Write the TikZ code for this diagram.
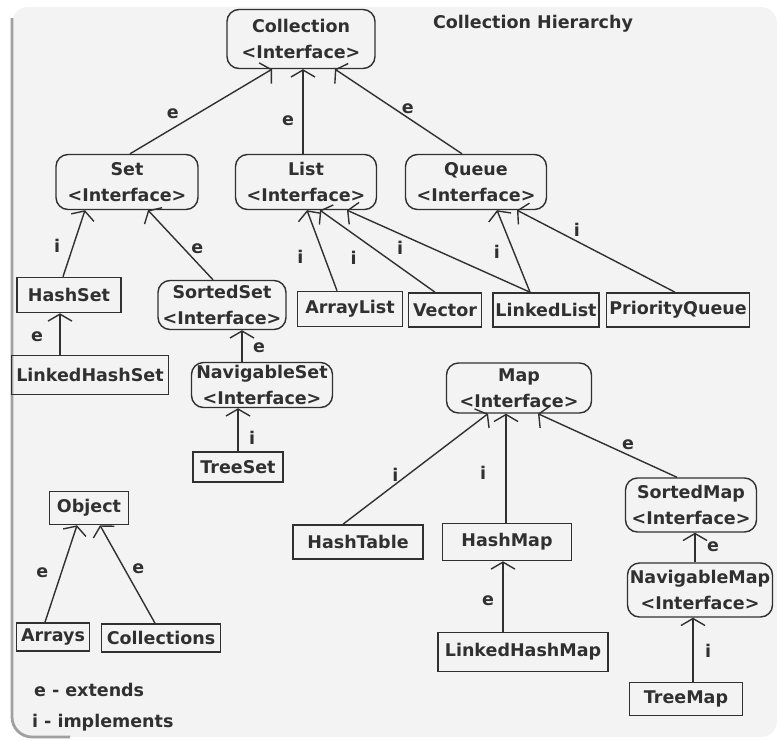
\documentclass[tikz,border=0pt]{standalone}
\usepackage{fontspec}
\setmainfont{DejaVu Sans}
\usetikzlibrary{arrows.meta}
\definecolor{bgfill}{HTML}{F3F3F3}
\definecolor{ink}{HTML}{303030}
\definecolor{rim}{HTML}{A0A0A0}

\begin{document}
\begin{tikzpicture}[x=0.5pt, y=-0.5pt, >={Straight Barb[length=3.5pt,width=12pt]},
  every node/.style={font=\bfseries\fontsize{8.75}{13}\selectfont, text=ink},
  iface/.style={draw=ink, rounded corners=6pt, align=center, inner sep=1pt, line width=0.7pt},
  cls/.style={draw=ink, inner sep=1pt, line width=0.8pt},
  lbl/.style={inner sep=0pt},
  rel/.style={->, draw=ink, line width=0.7pt}]
  % background sheet
  \useasboundingbox (0,0) rectangle (777,740);
  \fill[white] (0,0) rectangle (777,740);
  \fill[bgfill, rounded corners=8pt] (12,7) rectangle (777,737);
  \draw[rim, line width=1.4pt, rounded corners=10pt] (12,18) -- (12,737) -- (70,737);

  \node at (533,24) {Collection Hierarchy};

  % collection side
  \node[iface, minimum width=74pt, minimum height=29.5pt] (coll) at (301,39) {Collection\\<Interface>};
  \node[iface, minimum width=71pt, minimum height=27.5pt] (set) at (127,182) {Set\\<Interface>};
  \node[iface, minimum width=70.5pt, minimum height=27.5pt] (list) at (306,182) {List\\<Interface>};
  \node[iface, minimum width=70.5pt, minimum height=27.5pt] (queue) at (476,182) {Queue\\<Interface>};
  \node[cls, minimum width=52pt, minimum height=17.5pt] (hset) at (69,295) {HashSet};
  \node[cls, minimum width=78.5pt, minimum height=19.5pt] (lhset) at (90,375) {LinkedHashSet};
  \node[iface, minimum width=64pt, minimum height=24.5pt] (sset) at (222,305) {SortedSet\\<Interface>};
  \node[iface, minimum width=70.5pt, minimum height=22.5pt] (nset) at (262,385) {NavigableSet\\<Interface>};
  \node[cls, minimum width=45pt, minimum height=15pt] (tset) at (238,467) {TreeSet};
  \node[cls, minimum width=52.5pt, minimum height=17.5pt] (alist) at (350,309) {ArrayList};
  \node[cls, minimum width=36.5pt, minimum height=17pt] (vec) at (445,310) {Vector};
  \node[cls, minimum width=53pt, minimum height=17pt] (llist) at (546,310) {LinkedList};
  \node[cls, minimum width=71.5pt, minimum height=17pt] (pq) at (678,310) {PriorityQueue};

  % map side
  \node[iface, minimum width=72.5pt, minimum height=25pt] (map) at (519,388) {Map\\<Interface>};
  \node[cls, minimum width=65pt, minimum height=17pt] (htab) at (358,542) {HashTable};
  \node[cls, minimum width=64.5pt, minimum height=18.5pt] (hmap) at (507,542) {HashMap};
  \node[cls, minimum width=85pt, minimum height=19.5pt] (lhmap) at (523,652) {LinkedHashMap};
  \node[iface, minimum width=65.5pt, minimum height=27pt] (smap) at (691,505) {SortedMap\\<Interface>};
  \node[iface, minimum width=72.5pt, minimum height=27pt] (nmap) at (700,590) {NavigableMap\\<Interface>};
  \node[cls, minimum width=56.5pt, minimum height=16.5pt] (tmap) at (686,699) {TreeMap};

  % object side
  \node[cls, minimum width=39.5pt, minimum height=16.5pt] (obj) at (89,508) {Object};
  \node[cls, minimum width=36.5pt, minimum height=14pt] (arrs) at (53,637) {Arrays};
  \node[cls, minimum width=59.5pt, minimum height=14pt] (colls) at (161,638) {Collections};

  \node[anchor=west] (keye) at (27,690) {e - extends};
  \node[anchor=west] (keyi) at (25,723) {i - implements};

  % relations
  \draw[rel] ([xshift=1.5pt]set.north) -- node[lbl, pos=.47, xshift=-12pt] {e} ([xshift=-14.5pt]coll.south);
  \draw[rel] ([xshift=-1.5pt]list.north) -- node[lbl, pos=.39, xshift=-7.5pt] {e} ([xshift=1pt]coll.south);
  \draw[rel] ([xshift=-7pt]queue.north) -- node[lbl, pos=.53, xshift=6.5pt] {e} ([xshift=17pt]coll.south);
  \draw[rel] ([xshift=-3pt]hset.north) -- node[lbl, pos=.46, xshift=-8pt] {i} ([xshift=-21pt]set.south);
  \draw[rel] ([xshift=-4.5pt]sset.north) -- node[lbl, pos=.44, xshift=6.5pt] {e} ([xshift=10.5pt]set.south);
  \draw[rel] ([xshift=-15pt]lhset.north) -- node[lbl, pos=.43, xshift=-11.5pt] {e} ([xshift=-4.5pt]hset.south);
  \draw[rel] ([xshift=-10pt]nset.north) -- node[lbl, pos=.44, xshift=8.5pt] {e} ([xshift=10pt]sset.south);
  \draw[rel] (tset.north) -- node[lbl, pos=.31, xshift=7pt] {i} ([xshift=-12pt]nset.south);
  \draw[rel] ([xshift=-6.5pt]alist.north) -- node[lbl, pos=.42, xshift=-12pt] {i} ([xshift=0.5pt]list.south);
  \draw[rel] ([xshift=-5pt]vec.north) -- node[lbl, pos=.42, xshift=-16.5pt] {i} ([xshift=7pt]list.south);
  \draw[rel] ([xshift=-8pt]llist.north) -- node[lbl, pos=.54, xshift=-15.5pt] {i} ([xshift=20.5pt]list.south);
  \draw[rel] ([xshift=-8pt]llist.north) -- node[lbl, pos=.49, xshift=-8.5pt] {i} ([xshift=10.5pt]queue.south);
  \draw[rel] ([xshift=-1.5pt]pq.north) -- node[lbl, pos=.76, xshift=11pt] {i} ([xshift=20.5pt]queue.south);
  \draw[rel] ([xshift=-7.5pt]htab.north) -- node[lbl, pos=.45, xshift=-6.5pt] {i} ([xshift=-15.5pt]map.south);
  \draw[rel] ([xshift=-0.5pt]hmap.north) -- node[lbl, pos=.46, xshift=-11.5pt] {i} ([xshift=-6.5pt]map.south);
  \draw[rel] ([xshift=-7pt]smap.north) -- node[lbl, pos=.51, xshift=11pt] {e} ([xshift=9.5pt]map.south);
  \draw[rel] ([xshift=-10pt]lhmap.north) -- node[lbl, pos=.44, xshift=-7.5pt] {e} ([xshift=-2pt]hmap.south);
  \draw[rel] ([xshift=-2.5pt]nmap.north) -- node[lbl, pos=.52, xshift=9pt] {e} ([xshift=2pt]smap.south);
  \draw[rel] ([xshift=3.5pt]tmap.north) -- node[lbl, pos=.48, xshift=7.5pt] {i} ([xshift=-3.5pt]nmap.south);
  \draw[rel] ([xshift=-4pt]arrs.north) -- node[lbl, pos=.51, xshift=-9.5pt] {e} ([xshift=-6pt]obj.south);
  \draw[rel] ([xshift=-3pt]colls.north) -- node[lbl, pos=.56, xshift=7pt] {e} ([xshift=5.5pt]obj.south);
\end{tikzpicture}
\end{document}
